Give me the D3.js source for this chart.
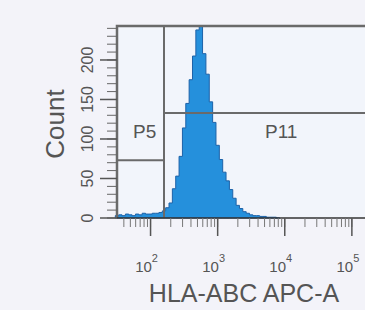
<!DOCTYPE html>
<html>
<head>
<meta charset="utf-8">
<script src="https://cdn.jsdelivr.net/npm/d3@7"></script>
<style>
  body { margin: 0; background: #f3f3f9; }
  svg { display: block; font-family: "Liberation Sans", Arial, sans-serif; }
</style>
</head>
<body>
<div class="chart"></div>
<script>
// histogram bins, log10 of HLA-ABC APC-A intensity
const binLogs = [1.50,1.55,1.60,1.65,1.70,1.75,1.80,1.85,1.90,1.95,2.00,2.05,2.10,2.15,2.20,2.25,2.30,2.35,2.40,2.45,2.50,2.55,2.60,2.65,2.70,2.75,2.80,2.85,2.90,2.95,3.00,3.05,3.10,3.15,3.20,3.25,3.30,3.35,3.40,3.45,3.50,3.55,3.60,3.65,3.70,3.75,3.80,3.85,3.90];
const binCounts = [3,4,3,5,4,3,5,4,6,5,5,6,6,7,9,13,19,37,53,78,114,145,175,205,238,245,208,182,147,121,92,74,58,47,36,25,16,12,8,6,4,3,3,2,2,1,1,1,0];
const yTicks = [0, 50, 100, 150, 200];
const xDecades = [2, 3, 4, 5];
// gates: P5 (left, low) and P11 (right)
const gateSplit = 10 ** 2.2;
const gateP5 = 73;
const gateP11 = 133;

const W = 365, H = 310;
const mLeft = 117, mTop = 26, mBottom = 218, mRight = 372;

const svg = d3.select('.chart').append('svg')
  .attr('width', W).attr('height', H);

const x = d3.scaleLog().domain([10 ** 1.5, 10 ** 5.3]).range([mLeft, mRight]);
const y = d3.scaleLinear().domain([0, 243]).range([mBottom, mTop]);

svg.append('rect').attr('x', mLeft).attr('y', mTop)
  .attr('width', mRight - mLeft).attr('height', mBottom - mTop)
  .attr('fill', '#f2f5fb');

// histogram as step area (clipped at the top of the frame)
const pts = [];
binLogs.forEach((l, i) => {
  const c = Math.min(binCounts[i], y.domain()[1]);
  pts.push([10 ** (l - 0.025), c]);
  pts.push([10 ** (l + 0.025), c]);
});
const area = d3.area()
  .x(d => x(d[0]))
  .y0(y(0))
  .y1(d => y(d[1]));
svg.append('path').datum(pts)
  .attr('d', area)
  .attr('fill', '#2590dc')
  .attr('stroke', '#1d62a8')
  .attr('stroke-width', 1);

// gates
const gateColor = '#6a6a6a';
svg.append('line')
  .attr('x1', x(gateSplit)).attr('x2', x(gateSplit))
  .attr('y1', mTop).attr('y2', mBottom)
  .attr('stroke', gateColor).attr('stroke-width', 2);
svg.append('line')
  .attr('x1', mLeft).attr('x2', x(gateSplit))
  .attr('y1', y(gateP5)).attr('y2', y(gateP5))
  .attr('stroke', gateColor).attr('stroke-width', 2);
svg.append('line')
  .attr('x1', x(gateSplit)).attr('x2', mRight)
  .attr('y1', y(gateP11)).attr('y2', y(gateP11))
  .attr('stroke', gateColor).attr('stroke-width', 2);
svg.append('text').text('P5')
  .attr('x', 133).attr('y', 138)
  .attr('font-size', 19).attr('fill', '#555');
svg.append('text').text('P11')
  .attr('x', 265).attr('y', 138)
  .attr('font-size', 19).attr('fill', '#555');

// frame
svg.append('path')
  .attr('d', `M${mRight},${mTop}H${mLeft}V${mBottom}`)
  .attr('fill', 'none').attr('stroke', gateColor).attr('stroke-width', 2.5);
svg.append('line')
  .attr('x1', mLeft).attr('x2', mRight).attr('y1', mBottom).attr('y2', mBottom)
  .attr('stroke', '#333').attr('stroke-width', 1.5);

// y axis
const yMinor = d3.range(0, 241, 10);
const yAx = svg.append('g').attr('transform', `translate(${mLeft},0)`);
yAx.selectAll('.minor').data(yMinor).join('line').attr('class', 'minor')
  .attr('x1', -10).attr('x2', 0)
  .attr('y1', d => y(d)).attr('y2', d => y(d))
  .attr('stroke', '#666');
yAx.selectAll('.major').data(yTicks).join('line').attr('class', 'major')
  .attr('x1', -17).attr('x2', 0)
  .attr('y1', d => y(d)).attr('y2', d => y(d))
  .attr('stroke', '#555').attr('stroke-width', 1.5);
yAx.selectAll('text').data(yTicks).join('text')
  .attr('transform', d => `translate(-24,${y(d)}) rotate(-90)`)
  .attr('text-anchor', 'middle')
  .attr('font-size', 16).attr('fill', '#555')
  .text(d => d);

svg.append('text').text('Count')
  .attr('transform', `translate(64,124) rotate(-90)`)
  .attr('text-anchor', 'middle')
  .attr('font-size', 26).attr('fill', '#555');

// x axis
const xMinor = [];
for (let dcd = 1; dcd <= 5; dcd++) {
  for (let m = 1; m < 10; m++) {
    const v = m * 10 ** dcd;
    if (v >= x.domain()[0] && v <= x.domain()[1]) xMinor.push(v);
  }
}
const xAx = svg.append('g').attr('transform', `translate(0,${mBottom})`);
xAx.selectAll('.minor').data(xMinor).join('line').attr('class', 'minor')
  .attr('x1', d => x(d)).attr('x2', d => x(d))
  .attr('y1', 0).attr('y2', 9)
  .attr('stroke', '#777');
xAx.selectAll('.major').data(xDecades).join('line').attr('class', 'major')
  .attr('x1', d => x(10 ** d)).attr('x2', d => x(10 ** d))
  .attr('y1', 0).attr('y2', 18)
  .attr('stroke', '#555').attr('stroke-width', 1.5);
const lab = xAx.selectAll('text').data(xDecades).join('text')
  .attr('x', d => x(10 ** d) - 4).attr('y', 54)
  .attr('text-anchor', 'middle')
  .attr('font-size', 15).attr('fill', '#555');
lab.append('tspan').text('10');
lab.append('tspan').attr('dy', -10).attr('font-size', 11).text(d => d);

svg.append('text').text('HLA-ABC APC-A')
  .attr('x', 244).attr('y', 302)
  .attr('text-anchor', 'middle')
  .attr('font-size', 25).attr('fill', '#555');
</script>
</body>
</html>
